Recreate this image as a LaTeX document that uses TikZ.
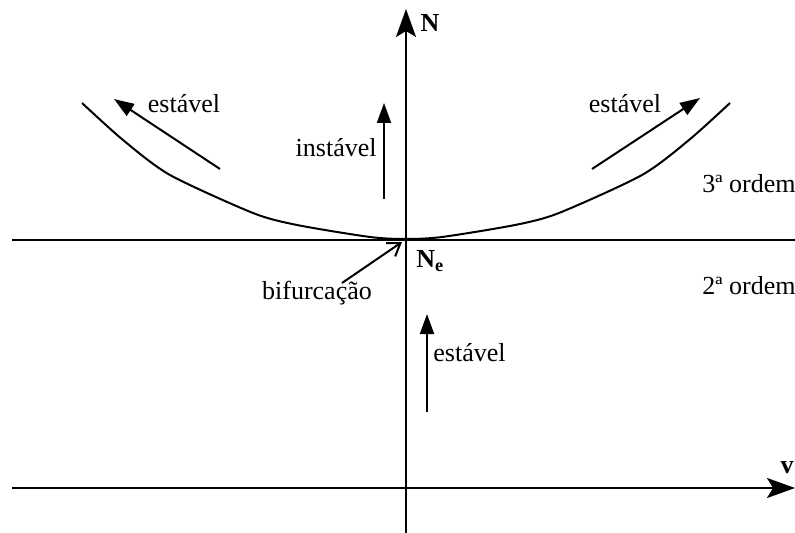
\documentclass[tikz,border=0pt]{standalone}
\usepackage{fontspec}
\setmainfont{Liberation Serif}
\usetikzlibrary{arrows.meta}

\begin{document}
\begin{tikzpicture}[x=0.5pt,y=-0.5pt,font=\fontsize{13pt}{15pt}\selectfont,
  axis/.style={line width=1pt,-{Stealth[length=14pt,width=10pt,inset=3pt]}},
  flow/.style={line width=1pt,-{Triangle[length=10pt,width=7pt]}},
  lbl/.style={inner sep=0pt}]
\useasboundingbox (0,0) rectangle (795,533);

% axes
\coordinate (vL) at (12,488);
\coordinate (vR) at (795,488);
\coordinate (nB) at (406,533);
\coordinate (nT) at (406,9);
\draw[axis] (vL) -- (vR);
\draw[axis] (nB) -- (nT);
\coordinate (hL) at (12,240);
\coordinate (hR) at (795,240);
\draw[line width=1pt] (hL) -- (hR);

\node[lbl] (N) at (430,23) {\textbf{N}};
\node[lbl] (v) at (787,468) {\textbf{v}};
\node[lbl,anchor=north west] (Ne) at (416,250) {\textbf{N\textsubscript{e}}};

% curve
\draw[line width=1pt] plot[smooth,tension=0.45] coordinates {(82,103) (123,140) (170,175)
  (253,213) (297,225) (370,237) (406,239) (442,237) (515,225) (559,213)
  (642,175) (689,140) (730,103)};

% arrows
\coordinate (a1) at (220,169);
\coordinate (a2) at (114,99);
\draw[flow] (a1) -- (a2);
\node[lbl] (e1) at (184,104) {estável};

\coordinate (b1) at (592,169);
\coordinate (b2) at (700,98);
\draw[flow] (b1) -- (b2);
\node[lbl] (e2) at (625,104) {estável};

\coordinate (c1) at (384,199);
\coordinate (c2) at (384,103);
\draw[flow] (c1) -- (c2);
\node[lbl,anchor=east] (i1) at (377,148) {instável};

\coordinate (d1) at (427,412);
\coordinate (d2) at (427,314);
\draw[flow] (d1) -- (d2);
\node[lbl,anchor=west] (e3) at (433,353) {estável};

\coordinate (f1) at (342,283);
\coordinate (f2) at (402,242);
\draw[line width=1pt,-{Straight Barb[length=6pt,width=8pt]}] (f1) -- (f2);
\node[lbl] (bif) at (317,293) {bifurcação};

\node[lbl] (o3) at (749,184) {3ª ordem};
\node[lbl] (o2) at (749,286) {2ª ordem};
\end{tikzpicture}
\end{document}
